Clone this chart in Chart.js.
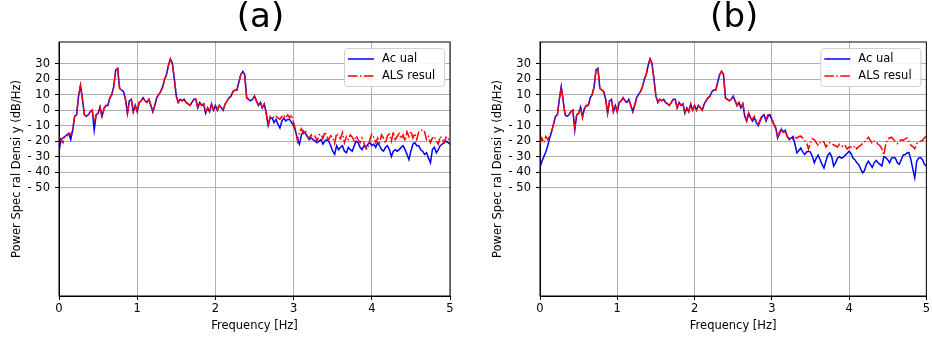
<!DOCTYPE html>
<html>
<head>
<meta charset="utf-8">
<title>PSD comparison</title>
<script src="https://cdn.jsdelivr.net/npm/chart.js@4.4.1/dist/chart.umd.min.js"></script>
<style>
  html, body { margin: 0; padding: 0; background: #fff; }
  .panel { position: absolute; top: 0; height: 338px; }
  #panel-a { left: 0; width: 466px; }
  #panel-b { left: 481px; width: 451px; }
</style>
</head>
<body>
<div class="panel" id="panel-a"><canvas id="chart-a"></canvas></div>
<div class="panel" id="panel-b"><canvas id="chart-b"></canvas></div>
<script>
// Frequency bins, 0 to 5 Hz every 0.025 Hz
const freq = [];
for (let i = 0; i <= 200; i++) freq.push(+(i * 0.025).toFixed(3));

const xTicks = [0, 1, 2, 3, 4, 5];
const yTicks = [30, 20, 10, 0, -10, -20, -30, -40, -50];

// PSD in dB/Hz, panel (a)
const actualA = [
  -27, -19, -18, -17, -16, -15, -19, -13, -4, -3,
  9, 16, 7, -3, -4, -3, -1, 0, -13, -3,
  -2, 2, -4, 1, 3, 3, 8, 10, 15, 26,
  27, 14, 13, 12, 7, -2, 6, 7, -1, 3,
  -1, 5, 6, 8, 6, 5, 7, 3, -1, 3,
  8, 10, 12, 15, 20, 23, 29, 33, 30, 20,
  9, 5, 7, 6, 7, 5, 4, 3, 5, 7,
  7, 1.5, 5, 3, 4, -2, 1.5, -1, 4, 0,
  3, 0, 3, 1.5, 0, 4, 6, 8, 9, 12,
  13, 13, 18, 23, 25, 23, 8, 7, 6, 7,
  9, 6, 3, 5, 1.5, 4, -2, -10, -5, -5,
  -8, -6, -9, -11.5, -7, -5, -7, -6, -6, -8,
  -10, -13.5, -19, -22, -16, -13.5, -15, -17, -19, -18,
  -19, -20, -21, -20, -19, -22, -20, -19, -20, -23,
  -26.5, -28.5, -23, -25.5, -24, -23, -26.5, -27.5, -24, -25.5,
  -26.5, -23, -20, -21, -24, -25.5, -23, -24, -22, -21,
  -23, -22, -24, -21, -23, -25.5, -26.5, -24, -23, -25.5,
  -30, -26.5, -25.5, -26.5, -25.5, -24, -23, -25.5, -28.5, -32,
  -26.5, -22, -21, -23, -23, -25.5, -26.5, -28.5, -27.5, -31,
  -34, -25.5, -24, -27.5, -25.5, -23, -22, -21, -20, -21,
  -22
];
const alsA = [
  -17, -19, -21, -17, -17, -15, -16, -12, -4, -3,
  9, 16, 7, -3, -4, -3, -1, 0, -8, -3,
  -2, 2, -5, 1, 3, 3, 8, 10, 15, 26,
  27, 14, 13, 12, 7, -2, 6, 7, -1, 3,
  -1, 5, 6, 8, 6, 5, 7, 3, -1, 3,
  8, 10, 12, 15, 20, 23, 29, 33, 30, 20,
  9, 5, 7, 6, 7, 5, 4, 3, 5, 7,
  7, 1.5, 5, 3, 4, -2, 1.5, -1, 4, 0,
  3, 0, 3, 1.5, 0, 4, 6, 8, 9, 12,
  13, 13, 18, 23, 25, 23, 8, 7, 6, 7,
  9, 6, 3, 5, 1.5, 4, -2, -10, -4, -4,
  -5, -4, -5, -6, -4, -3, -5, -3, -5, -3,
  -8, -13, -20, -14, -12, -15, -13, -17, -18, -16,
  -19, -17, -20, -16, -15.5, -18.5, -14, -17, -19, -16.5,
  -17.5, -21.5, -15, -17, -18.5, -14.5, -21, -17, -19, -16,
  -17.5, -20, -16.5, -19, -21, -18, -21, -25, -25, -19,
  -15.5, -17.5, -21, -18, -21, -16, -18, -21.5, -16.5, -15.5,
  -20, -14, -19, -17, -15, -18.5, -16, -20, -14, -17,
  -13.5, -18, -15, -19, -14, -13.5, -12.5, -14, -19, -17,
  -21, -18, -17, -20, -22, -17, -18.5, -21, -17.5, -19,
  -17
];

// PSD in dB/Hz, panel (b)
const actualB = [
  -37, -33, -30, -27, -23, -18, -14, -9, -4, -3,
  7, 15, 6, -3, -4, -3, -1, 0, -13, -3,
  -2, 2, -4, 1, 3, 3, 8, 10, 15, 26,
  27, 14, 13, 12, 7, -2, 6, 7, -1, 3,
  -1, 5, 6, 8, 6, 5, 7, 3, -1, 3,
  8, 10, 12, 15, 20, 23, 29, 33, 30, 20,
  9, 5, 7, 6, 7, 5, 4, 3, 5, 7,
  7, 1.5, 5, 3, 4, -2, 1.5, -1, 4, 0,
  3, 0, 3, 1.5, 0, 4, 6, 8, 9, 12,
  13, 13, 18, 23, 25, 23, 8, 7, 6, 7,
  9, 6, 3, 5, 1.5, 4, -4, -7, -2, -5,
  -7, -5, -8, -10, -7, -4, -3, -7, -4, -3,
  -6, -9, -11, -18, -15, -12.5, -14, -13, -17, -19,
  -18, -17, -22, -27.6, -26, -24.4, -27, -28.7, -27, -26.5,
  -27, -30, -34, -31, -29, -32, -35, -37.3, -33, -29,
  -27.6, -30, -36, -34, -31, -30, -31, -30.5, -29, -28,
  -26.5, -28, -31, -32, -34, -35, -38, -40.5, -39, -35,
  -33, -35, -37, -34, -32.5, -34, -35, -36, -30, -30.6,
  -32, -34, -31, -30.6, -31, -34, -35, -32, -29, -28.7,
  -27.6, -27.4, -32, -38, -43.7, -33, -31, -30.6, -32, -35,
  -36
];
const alsB = [
  -22, -18, -21, -17, -19, -17, -14, -9, -4, -3,
  7, 15, 6, -3, -4, -3, -1, 0, -11, -3,
  -2, 2, -5, 1, 3, 3, 8, 10, 15, 26,
  27, 14, 13, 12, 7, -2, 6, 7, -1, 3,
  -1, 5, 6, 8, 6, 5, 7, 3, -1, 3,
  8, 10, 12, 15, 20, 23, 29, 33, 30, 20,
  9, 5, 7, 6, 7, 5, 4, 3, 5, 7,
  7, 1.5, 5, 3, 4, -2, 1.5, -1, 4, 0,
  3, 0, 3, 1.5, 0, 4, 6, 8, 9, 12,
  13, 13, 18, 23, 25, 23, 8, 7, 6, 7,
  9, 6, 3, 5, 1.5, 4, -3, -7, -2, -5,
  -6, -4, -7, -9, -6, -3, -3, -6, -3, -3,
  -5, -9, -12, -17, -14, -12, -15, -14, -17, -18,
  -19, -18.5, -17.5, -18, -17, -16.8, -18, -19.6, -21, -25,
  -21, -18.5, -19, -21, -22.7, -21, -20, -20.6, -23.8, -22,
  -21, -21.6, -22.5, -23, -23.8, -22, -22.7, -24, -23, -25,
  -24, -23.8, -24.5, -23, -25, -23.5, -22.7, -21.5, -20.6, -19,
  -17.5, -19.5, -21.6, -20, -20.6, -22, -23, -25, -29, -22,
  -18.5, -18, -17.5, -19, -20.5, -21.6, -20, -19, -19.6, -18.5,
  -18, -20, -22.7, -23.5, -25, -21.6, -20.5, -20, -19.6, -18,
  -16.8
];

const FONT = 'DejaVu Sans';
const ACTUAL_LABEL = 'Ac ual';
const ALS_LABEL = 'ALS resul';
const DASH_DOT = [9.6, 2.4, 1.5, 2.4];

function toPoints(values) {
  return values.map((v, i) => ({x: freq[i], y: v}));
}

// Panel title, black frame round the plot area, legend box in the upper right corner
const framePlugin = {
  id: 'frame',
  afterDatasetsDraw(chart, args, opts) {
    const {ctx, chartArea: a} = chart;
    ctx.save();
    ctx.strokeStyle = '#000';
    ctx.lineWidth = 1;
    ctx.strokeRect(a.left, a.top, a.right - a.left, a.bottom - a.top);

    ctx.fillStyle = '#000';
    ctx.font = '34px "' + FONT + '"';
    ctx.textAlign = 'center';
    ctx.textBaseline = 'middle';
    ctx.fillText(opts.title, (a.left + a.right) / 2 + opts.titleShift, 18.5);

    const w = 100, h = 38;
    const left = a.right - 6 - w, top = a.top + 6;
    ctx.beginPath();
    ctx.roundRect(left + 0.5, top + 0.5, w, h, 3);
    ctx.fillStyle = 'rgba(255,255,255,0.9)';
    ctx.fill();
    ctx.strokeStyle = '#d0d0d0';
    ctx.stroke();

    const rows = [
      {label: ACTUAL_LABEL, color: '#0000ff', dash: []},
      {label: ALS_LABEL, color: '#ff0000', dash: DASH_DOT}
    ];
    ctx.font = '11.5px "' + FONT + '"';
    ctx.textAlign = 'left';
    rows.forEach((r, k) => {
      const y = top + 11 + k * 17;
      ctx.beginPath();
      ctx.setLineDash(r.dash);
      ctx.strokeStyle = r.color;
      ctx.lineWidth = 1.5;
      ctx.moveTo(left + 4, y);
      ctx.lineTo(left + 30, y);
      ctx.stroke();
      ctx.setLineDash([]);
      ctx.fillStyle = '#000';
      ctx.fillText(r.label, left + 38, y);
    });
    ctx.restore();
  }
};

function makeChart(id, title, titleShift, actual, als, rightPad) {
  const tickFont = {family: FONT, size: 11.5};
  return new Chart(document.getElementById(id), {
    type: 'line',
    data: {
      datasets: [
        {
          label: ACTUAL_LABEL,
          data: toPoints(actual),
          borderColor: '#0000ff',
          borderWidth: 1.5,
          pointRadius: 0,
          tension: 0,
          order: 2
        },
        {
          // drawn over the blue curve
          label: ALS_LABEL,
          data: toPoints(als),
          borderColor: '#ff0000',
          borderWidth: 1.5,
          borderDash: DASH_DOT,
          pointRadius: 0,
          tension: 0,
          order: 1
        }
      ]
    },
    options: {
      responsive: true,
      maintainAspectRatio: false,
      animation: false,
      layout: {padding: {left: 0, right: rightPad, top: 42, bottom: 0}},
      plugins: {
        legend: {display: false},
        tooltip: {enabled: false},
        title: {display: false},
        frame: {title: title, titleShift: titleShift}
      },
      scales: {
        x: {
          type: 'linear',
          min: 0,
          max: 5,
          afterBuildTicks: s => { s.ticks = xTicks.map(v => ({value: v})); },
          afterFit: s => { s.height = 42; },
          grid: {color: '#b0b0b0', lineWidth: 1, tickLength: 4, tickColor: '#000'},
          border: {color: '#000'},
          ticks: {color: '#000', font: tickFont, padding: 2, maxRotation: 0},
          title: {display: true, text: 'Frequency [Hz]', color: '#000', font: tickFont, padding: {top: 0, bottom: 5}}
        },
        y: {
          min: -120,
          max: 44,
          afterBuildTicks: s => { s.ticks = yTicks.map(v => ({value: v})); },
          afterFit: s => { s.width = 59; },
          grid: {color: '#b0b0b0', lineWidth: 1, tickLength: 4, tickColor: '#000'},
          border: {color: '#000'},
          ticks: {
            color: '#000',
            font: tickFont,
            padding: 5,
            callback: v => v < 0 ? '- ' + Math.abs(v) : String(v)
          },
          title: {
            display: true,
            text: 'Power Spec ral Densi y (dB/Hz)',
            color: '#000',
            font: tickFont,
            padding: {top: 10, bottom: 0}
          }
        }
      }
    },
    plugins: [framePlugin]
  });
}

makeChart('chart-a', '(a)', 6, actualA, alsA, 16);
makeChart('chart-b', '(b)', 1, actualB, alsB, 2);
</script>
</body>
</html>
